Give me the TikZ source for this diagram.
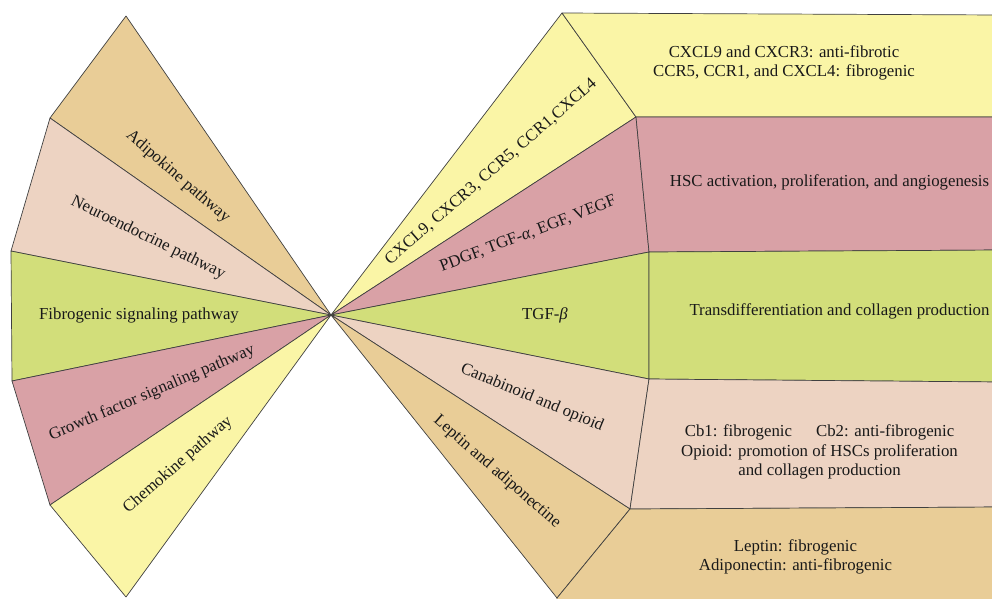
\documentclass[tikz,border=0pt]{standalone}
\usepackage{fontspec}
\setmainfont{Liberation Serif}
\definecolor{ctan}{RGB}{233,205,151}
\definecolor{cbeige}{RGB}{237,211,194}
\definecolor{cgreen}{RGB}{210,222,122}
\definecolor{crose}{RGB}{217,161,166}
\definecolor{cyellow}{RGB}{250,245,166}
\begin{document}
\begin{tikzpicture}[x=1pt,y=-1pt,line join=round,
  sect/.style={draw=black!75,line width=0.7pt},
  lbl/.style={font=\fontsize{16.8}{19.5}\selectfont,inner sep=0pt,align=center,text=black!90}]
\useasboundingbox (0,0) rectangle (992,598);
\clip (0,0) rectangle (992,598);
\coordinate (c) at (331,315);
% left fan outer points
\coordinate (L1) at (126,16);
\coordinate (L2) at (50,118);
\coordinate (L3) at (11,251);
\coordinate (L4) at (12,381);
\coordinate (L5) at (50,505);
\coordinate (L6) at (126,597);
% right fan outer points
\coordinate (R1) at (562,13);
\coordinate (R2) at (636,117);
\coordinate (R3) at (649,252);
\coordinate (R4) at (649,379);
\coordinate (R5) at (630,509);
\coordinate (R6) at (557,598);
% box right ends
\coordinate (B1) at (1000,15);
\coordinate (B2) at (1000,117);
\coordinate (B3) at (1000,250);
\coordinate (B4) at (1000,382);
\coordinate (B5) at (1000,507);
\coordinate (B6) at (1000,604);
\coordinate (B7) at (557,604);
% left sectors
\filldraw[sect,fill=ctan] (c) -- (L1) -- (L2) -- cycle;
\filldraw[sect,fill=cbeige] (c) -- (L2) -- (L3) -- cycle;
\filldraw[sect,fill=cgreen] (c) -- (L3) -- (L4) -- cycle;
\filldraw[sect,fill=crose] (c) -- (L4) -- (L5) -- cycle;
\filldraw[sect,fill=cyellow] (c) -- (L5) -- (L6) -- cycle;
% right sectors
\filldraw[sect,fill=cyellow] (c) -- (R1) -- (R2) -- cycle;
\filldraw[sect,fill=crose] (c) -- (R2) -- (R3) -- cycle;
\filldraw[sect,fill=cgreen] (c) -- (R3) -- (R4) -- cycle;
\filldraw[sect,fill=cbeige] (c) -- (R4) -- (R5) -- cycle;
\filldraw[sect,fill=ctan] (c) -- (R5) -- (R6) -- cycle;
% right boxes
\filldraw[sect,fill=cyellow] (R1) -- (B1) -- (B2) -- (R2) -- cycle;
\filldraw[sect,fill=crose] (R2) -- (B2) -- (B3) -- (R3) -- cycle;
\filldraw[sect,fill=cgreen] (R3) -- (B3) -- (B4) -- (R4) -- cycle;
\filldraw[sect,fill=cbeige] (R4) -- (B4) -- (B5) -- (R5) -- cycle;
\filldraw[sect,fill=ctan] (R5) -- (B5) -- (B6) -- (B7) -- (R6) -- cycle;
% left labels
\node[lbl,rotate=-41] (adip) at (178,177) {Adipokine pathway};
\node[lbl,rotate=-26] (neuro) at (148,238) {Neuroendocrine pathway};
\node[lbl] (fibro) at (139,315) {Fibrogenic signaling pathway};
\node[lbl,rotate=23] (growth) at (152,393) {Growth factor signaling pathway};
\node[lbl,rotate=41] (chemo) at (178,465) {Chemokine pathway};
% right fan labels
\node[lbl,rotate=41] (cxcl) at (491,172) {CXCL9, CXCR3, CCR5, CCR1,CXCL4};
\node[lbl,rotate=21] (pdgf) at (528,234) {PDGF, TGF-\textit{α}, EGF, VEGF};
\node[lbl] (tgfb) at (545,315) {TGF-\textit{β}};
\node[lbl,rotate=-22.5] (cana) at (532,398) {Canabinoid and opioid};
\node[lbl,rotate=-41] (lept) at (497,472) {Leptin and adiponectine};
% box texts
\node[lbl] (bx1) at (784,63) {CXCL9 and CXCR3: anti-fibrotic\\CCR5, CCR1, and CXCL4: fibrogenic};
\node[lbl] (bx2) at (829.5,182) {HSC activation, proliferation, and angiogenesis};
\node[lbl] (bx3) at (839.5,311) {Transdifferentiation and collagen production};
\node[lbl] (bx4) at (819.5,452) {Cb1: fibrogenic\hspace{24pt}Cb2: anti-fibrogenic\\Opioid: promotion of HSCs proliferation\\and collagen production};
\node[lbl] (bx5) at (795.5,557) {Leptin: fibrogenic\\Adiponectin: anti-fibrogenic};
\end{tikzpicture}
\end{document}
